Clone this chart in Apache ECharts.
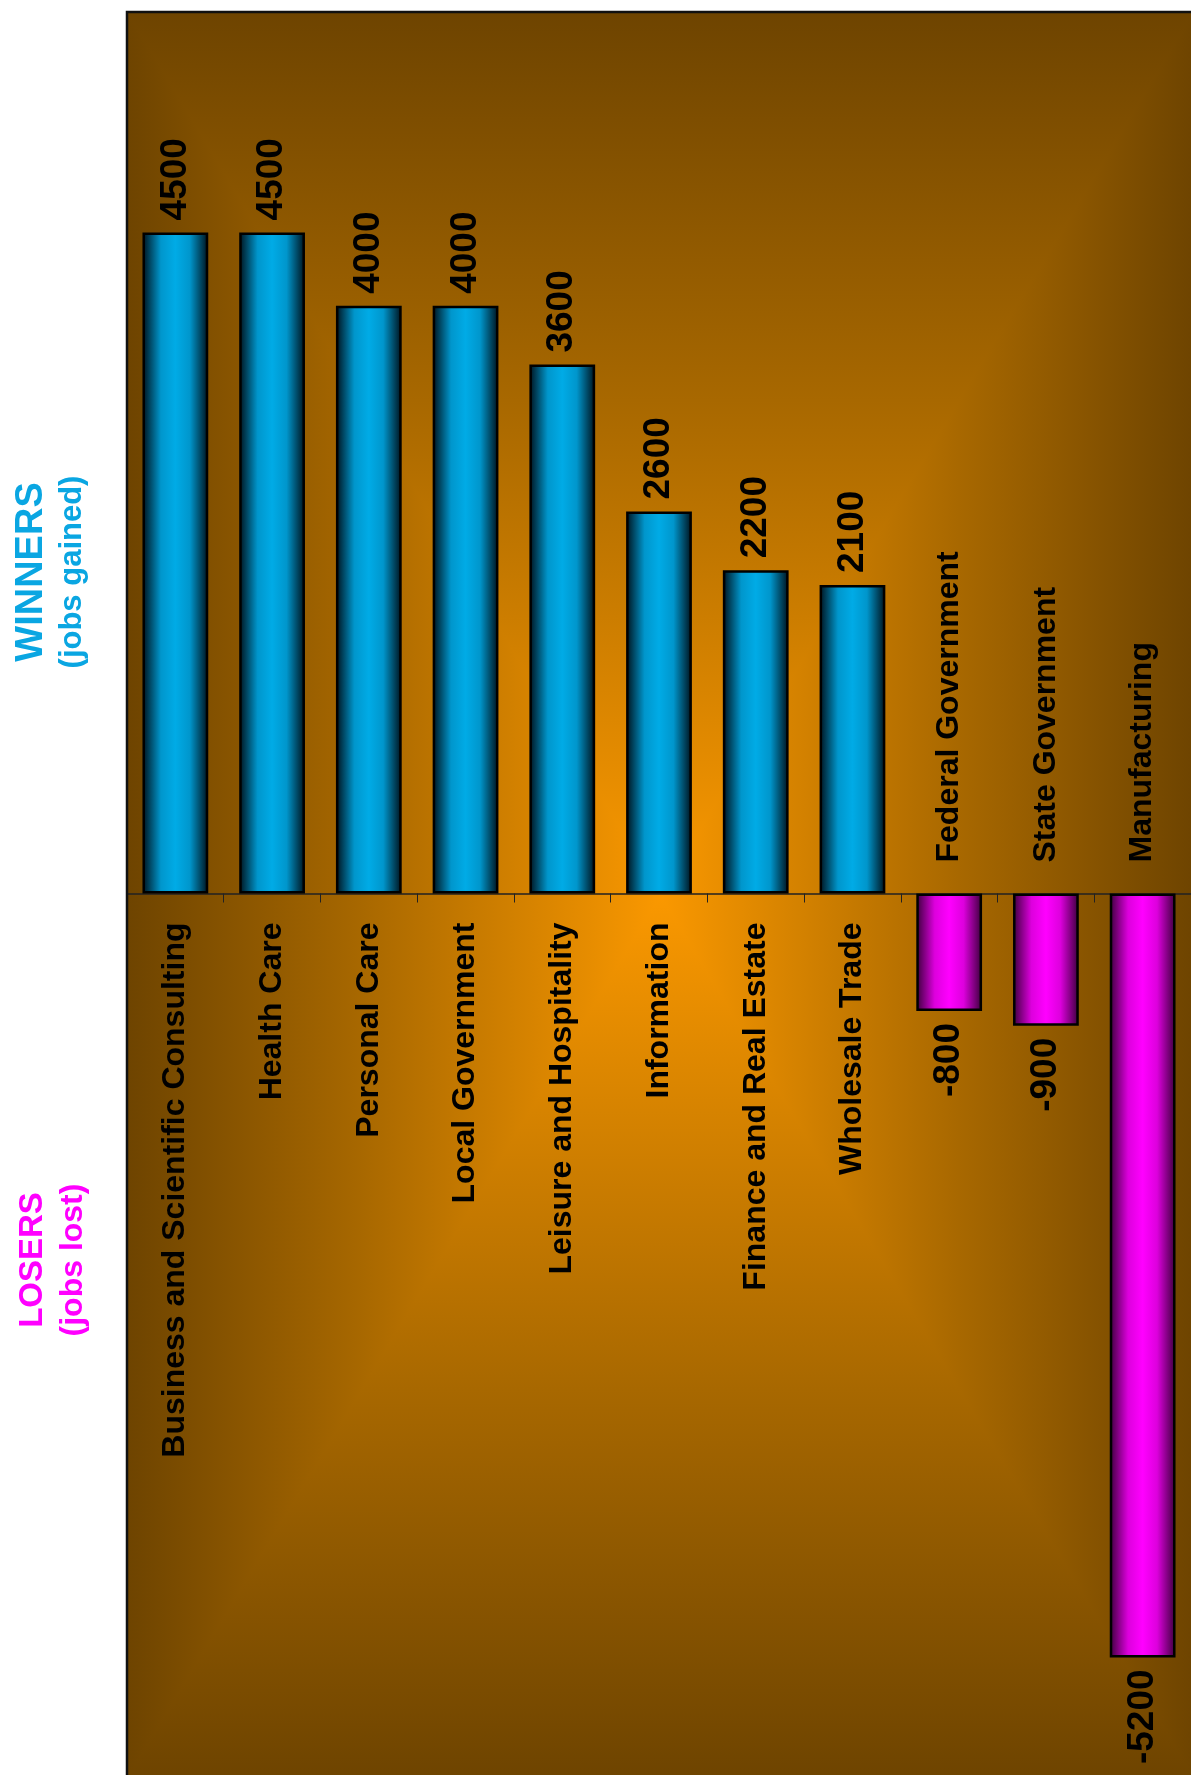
<!DOCTYPE html>
<html><head><meta charset="utf-8">
<script src="https://cdn.jsdelivr.net/npm/echarts@6/dist/echarts.min.js"></script>
<style>html,body{margin:0;padding:0;background:#fff}#c{width:1191px;height:1775px}</style>
</head><body><div id="c"></div>
<script>
// ---- data ----
const categories = ['Business and Scientific Consulting','Health Care','Personal Care','Local Government','Leisure and Hospitality','Information','Finance and Real Estate','Wholesale Trade','Federal Government','State Government','Manufacturing'];
const jobChange = [4500, 4500, 4000, 4000, 3600, 2600, 2200, 2100, -800, -900, -5200];
const valueMin = -6000, valueMax = 6000;
const winnersTitle = ['WINNERS', '(jobs gained)'];
const losersTitle = ['LOSERS', '(jobs lost)'];

// ---- layout / style ----
const W = 1191, H = 1775;
const G = {left: 127, top: 12, right: -3, bottom: -3};
const gx0 = G.left, gy0 = G.top, gx1 = W - G.right, gy1 = H - G.bottom;
const bgStops = [{offset:0,color:'#6E4400'},{offset:0.22,color:'#A86800'},{offset:0.5,color:'#FA9800'},{offset:0.78,color:'#A86800'},{offset:1,color:'#6E4400'}];
const labelFont = '"Liberation Sans", Arial, sans-serif';
const numFont = '"Liberation Sans", Arial, sans-serif';
const LG = echarts.graphic.LinearGradient;
const cyanGrad = () => new LG(0,0,1,0,[{offset:0,color:'#00101a'},{offset:0.28,color:'#0096cc'},{offset:0.5,color:'#00abe6'},{offset:0.72,color:'#0096cc'},{offset:1,color:'#00101a'}]);
const magGrad = () => new LG(0,0,1,0,[{offset:0,color:'#3a003a'},{offset:0.28,color:'#dd00dd'},{offset:0.5,color:'#ff00ff'},{offset:0.72,color:'#dd00dd'},{offset:1,color:'#3a003a'}]);

const chart = echarts.init(document.getElementById('c'), null, {renderer:'canvas'});
chart.setOption({
  animation: false,
  backgroundColor: '#ffffff',
  grid: {left: G.left, top: G.top, right: G.right, bottom: G.bottom, show: false, containLabel: false},
  xAxis: {
    type: 'category', data: categories,
    axisLine: {onZero: true, lineStyle: {color: '#222', width: 1.5}},
    axisTick: {show: true, interval: 0, length: 9, lineStyle: {color: '#222', width: 1}},
    axisLabel: {show: false, interval: 0}, splitLine: {show: false}
  },
  yAxis: {type: 'value', min: valueMin, max: valueMax, show: false, splitLine: {show: false}},
  graphic: [
    {type: 'rect', z: -20, silent: true, shape: {x: gx0, y: gy0, width: gx1-gx0, height: gy1-gy0},
     style: {fill: new LG(0,0,1,0,bgStops)}},
    {type: 'rect', z: -19, silent: true, shape: {x: gx0, y: gy0, width: gx1-gx0, height: gy1-gy0},
     style: {blend: 'darken', fill: new LG(0,0,0,1,bgStops)}},
    {type: 'rect', z: 5, silent: true, shape: {x: gx0, y: gy0, width: gx1-gx0, height: gy1-gy0},
     style: {fill: 'none', stroke: '#111', lineWidth: 2.5}},
    {type: 'text', z: 5, x: 52, y: 572, rotation: Math.PI/2,
     style: {text: '{a|' + winnersTitle[0] + '}\n{b|' + winnersTitle[1] + '}', align: 'center', verticalAlign: 'middle',
       rich: {a: {fontSize: 38, fontWeight: 'bold', fontFamily: numFont, fill: '#0AA6E2', lineHeight: 40, align: 'center'},
              b: {fontSize: 31, fontWeight: 'bold', fontFamily: numFont, fill: '#0AA6E2', lineHeight: 40, align: 'center'}}}},
    {type: 'text', z: 5, x: 53, y: 1260, rotation: Math.PI/2,
     style: {text: '{a|' + losersTitle[0] + '}\n{b|' + losersTitle[1] + '}', align: 'center', verticalAlign: 'middle',
       rich: {a: {fontSize: 33, fontWeight: 'bold', fontFamily: numFont, fill: '#FF00FF', lineHeight: 40, align: 'center'},
              b: {fontSize: 32, fontWeight: 'bold', fontFamily: numFont, fill: '#FF00FF', lineHeight: 40, align: 'center'}}}}
  ],
  series: [
    {
      type: 'bar', barWidth: '68%', z: 3,
      data: jobChange.map(v => ({
        value: v,
        itemStyle: {color: v >= 0 ? cyanGrad() : magGrad()},
        label: v >= 0 ? {position: 'top', align: 'left'} : {position: 'bottom', align: 'right'}
      })),
      itemStyle: {borderColor: '#000', borderWidth: 2.5},
      label: {show: true, rotate: 90, verticalAlign: 'middle', distance: 12,
        fontSize: 37, fontWeight: 'bold', fontFamily: numFont, color: '#000'}
    },
    {
      type: 'scatter', symbolSize: 0, silent: true, z: 4,
      itemStyle: {color: 'rgba(0,0,0,0)', opacity: 1},
      data: categories.map((c, i) => ({
        value: [i, 0],
        label: jobChange[i] >= 0 ? {position: 'bottom', distance: 29, align: 'right'} : {position: 'top', distance: 31, align: 'left'}
      })),
      label: {show: true, rotate: 90, verticalAlign: 'middle', opacity: 1,
        formatter: p => categories[p.data.value[0]],
        fontSize: 32, fontWeight: 'bold', fontFamily: labelFont, color: '#000'}
    }
  ]
});
</script></body></html>
